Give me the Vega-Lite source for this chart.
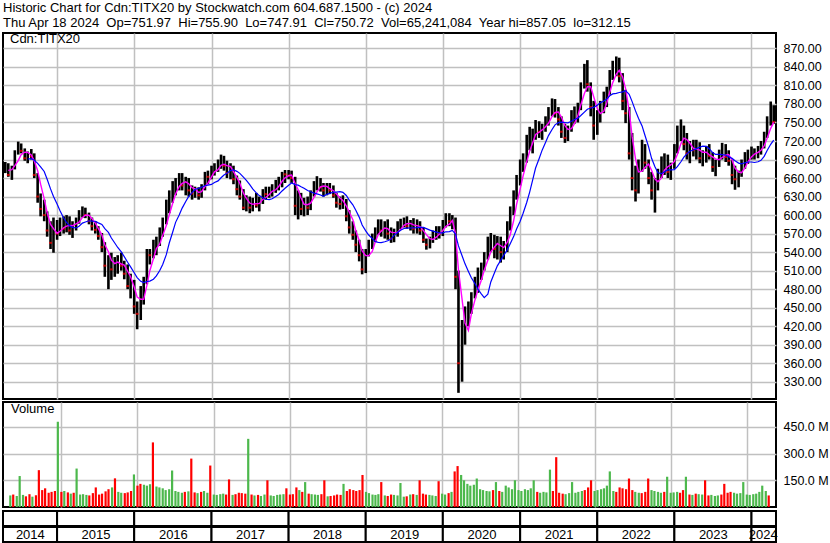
{
"$schema":"https://vega.github.io/schema/vega-lite/v6.json",
"background":"white",
"padding":{"left":1,"top":2,"right":0,"bottom":0},
"spacing":1,
"title":{"text":["Historic Chart for Cdn:TITX20 by Stockwatch.com 604.687.1500 - (c) 2024","Thu Apr 18 2024\u00a0 Op=751.97\u00a0 Hi=755.90\u00a0 Lo=747.91\u00a0 Cl=750.72\u00a0 Vol=65,241,084\u00a0 Year hi=857.05\u00a0 lo=312.15"],"anchor":"start","frame":"group","font":"Liberation Sans","fontSize":13,"fontWeight":"normal","color":"black","lineHeight":15,"offset":2},
"config":{"view":{"stroke":"black","strokeWidth":2},"axis":{"labelFont":"Liberation Sans","labelFontSize":12.5,"labelColor":"#000000","labelOverlap":false,"gridColor":"#c0c0c0","gridWidth":1.5}},
"datasets":{
"yr":[
{"y":"2014","s":"2014-04-20","e":"2015-01-01"},{"y":"2015","s":"2015-01-01","e":"2016-01-01"},{"y":"2016","s":"2016-01-01","e":"2017-01-01"},{"y":"2017","s":"2017-01-01","e":"2018-01-01"},{"y":"2018","s":"2018-01-01","e":"2019-01-01"},{"y":"2019","s":"2019-01-01","e":"2020-01-01"},{"y":"2020","s":"2020-01-01","e":"2021-01-01"},{"y":"2021","s":"2021-01-01","e":"2022-01-01"},{"y":"2022","s":"2022-01-01","e":"2023-01-01"},{"y":"2023","s":"2023-01-01","e":"2024-01-01"},{"y":"2024","s":"2024-01-01","e":"2024-04-26"}],
"p":[
{"d":"2014-05-01","o":672,"h":686,"l":668,"c":680,"v":65},
{"d":"2014-05-15","o":680,"h":684,"l":662,"c":665,"v":70},
{"d":"2014-06-01","o":665,"h":680,"l":657,"c":676,"v":62},
{"d":"2014-06-15","o":676,"h":705,"l":674,"c":700,"v":174},
{"d":"2014-07-01","o":700,"h":719,"l":698,"c":712,"v":68},
{"d":"2014-07-15","o":712,"h":716,"l":700,"c":704,"v":60},
{"d":"2014-08-01","o":704,"h":708,"l":688,"c":692,"v":72},
{"d":"2014-08-15","o":692,"h":703,"l":684,"c":698,"v":58},
{"d":"2014-09-01","o":698,"h":707,"l":690,"c":695,"v":66},
{"d":"2014-09-15","o":695,"h":700,"l":660,"c":665,"v":207},
{"d":"2014-10-01","o":665,"h":668,"l":620,"c":630,"v":95},
{"d":"2014-10-15","o":630,"h":635,"l":598,"c":610,"v":105},
{"d":"2014-11-01","o":610,"h":625,"l":590,"c":600,"v":80},
{"d":"2014-11-15","o":600,"h":606,"l":565,"c":575,"v":85},
{"d":"2014-12-01","o":575,"h":590,"l":545,"c":555,"v":90},
{"d":"2014-12-15","o":555,"h":596,"l":539,"c":582,"v":479},
{"d":"2015-01-01","o":582,"h":592,"l":560,"c":570,"v":85},
{"d":"2015-01-15","o":570,"h":596,"l":566,"c":588,"v":90},
{"d":"2015-02-01","o":588,"h":598,"l":570,"c":578,"v":82},
{"d":"2015-02-15","o":578,"h":600,"l":572,"c":592,"v":75},
{"d":"2015-03-01","o":592,"h":598,"l":568,"c":575,"v":80},
{"d":"2015-03-15","o":575,"h":590,"l":563,"c":586,"v":216},
{"d":"2015-04-01","o":586,"h":596,"l":575,"c":590,"v":70},
{"d":"2015-04-15","o":590,"h":608,"l":586,"c":603,"v":72},
{"d":"2015-05-01","o":603,"h":614,"l":596,"c":606,"v":68},
{"d":"2015-05-15","o":606,"h":612,"l":595,"c":600,"v":65},
{"d":"2015-06-01","o":600,"h":604,"l":585,"c":590,"v":78},
{"d":"2015-06-15","o":590,"h":596,"l":575,"c":582,"v":110},
{"d":"2015-07-01","o":582,"h":590,"l":570,"c":576,"v":70},
{"d":"2015-07-15","o":576,"h":582,"l":560,"c":566,"v":75},
{"d":"2015-08-01","o":566,"h":571,"l":540,"c":548,"v":88},
{"d":"2015-08-15","o":548,"h":556,"l":500,"c":518,"v":100},
{"d":"2015-09-01","o":518,"h":535,"l":480,"c":530,"v":110},
{"d":"2015-09-15","o":530,"h":539,"l":495,"c":512,"v":161},
{"d":"2015-10-01","o":512,"h":532,"l":500,"c":525,"v":85},
{"d":"2015-10-15","o":525,"h":535,"l":505,"c":528,"v":80},
{"d":"2015-11-01","o":528,"h":539,"l":510,"c":518,"v":78},
{"d":"2015-11-15","o":518,"h":526,"l":496,"c":505,"v":82},
{"d":"2015-12-01","o":505,"h":520,"l":480,"c":485,"v":90},
{"d":"2015-12-15","o":485,"h":505,"l":465,"c":492,"v":183},
{"d":"2016-01-01","o":492,"h":495,"l":440,"c":452,"v":120},
{"d":"2016-01-15","o":452,"h":460,"l":415,"c":440,"v":130},
{"d":"2016-02-01","o":440,"h":485,"l":430,"c":470,"v":125},
{"d":"2016-02-15","o":470,"h":500,"l":455,"c":492,"v":120},
{"d":"2016-03-01","o":492,"h":545,"l":488,"c":542,"v":128},
{"d":"2016-03-15","o":542,"h":545,"l":520,"c":535,"v":363},
{"d":"2016-04-01","o":535,"h":560,"l":530,"c":548,"v":115},
{"d":"2016-04-15","o":548,"h":565,"l":535,"c":558,"v":110},
{"d":"2016-05-01","o":558,"h":580,"l":550,"c":572,"v":105},
{"d":"2016-05-15","o":572,"h":596,"l":565,"c":590,"v":95},
{"d":"2016-06-01","o":590,"h":625,"l":585,"c":612,"v":100},
{"d":"2016-06-15","o":612,"h":640,"l":603,"c":628,"v":205},
{"d":"2016-07-01","o":628,"h":655,"l":620,"c":645,"v":90},
{"d":"2016-07-15","o":645,"h":660,"l":632,"c":652,"v":85},
{"d":"2016-08-01","o":652,"h":668,"l":640,"c":660,"v":80},
{"d":"2016-08-15","o":660,"h":668,"l":640,"c":648,"v":85},
{"d":"2016-09-01","o":648,"h":662,"l":632,"c":655,"v":88},
{"d":"2016-09-15","o":655,"h":660,"l":630,"c":640,"v":272},
{"d":"2016-10-01","o":640,"h":648,"l":625,"c":635,"v":82},
{"d":"2016-10-15","o":635,"h":646,"l":628,"c":640,"v":78},
{"d":"2016-11-01","o":640,"h":645,"l":625,"c":632,"v":85},
{"d":"2016-11-15","o":632,"h":650,"l":628,"c":645,"v":90},
{"d":"2016-12-01","o":645,"h":670,"l":640,"c":668,"v":80},
{"d":"2016-12-15","o":668,"h":672,"l":650,"c":662,"v":233},
{"d":"2017-01-01","o":662,"h":680,"l":658,"c":672,"v":70},
{"d":"2017-01-15","o":672,"h":684,"l":664,"c":678,"v":68},
{"d":"2017-02-01","o":678,"h":690,"l":670,"c":682,"v":72},
{"d":"2017-02-15","o":682,"h":698,"l":675,"c":690,"v":75},
{"d":"2017-03-01","o":690,"h":696,"l":672,"c":680,"v":70},
{"d":"2017-03-15","o":680,"h":688,"l":660,"c":668,"v":155},
{"d":"2017-04-01","o":668,"h":684,"l":658,"c":676,"v":68},
{"d":"2017-04-15","o":676,"h":680,"l":650,"c":658,"v":72},
{"d":"2017-05-01","o":658,"h":664,"l":632,"c":642,"v":80},
{"d":"2017-05-15","o":642,"h":656,"l":625,"c":630,"v":78},
{"d":"2017-06-01","o":630,"h":642,"l":608,"c":612,"v":75},
{"d":"2017-06-15","o":612,"h":632,"l":606,"c":624,"v":383},
{"d":"2017-07-01","o":624,"h":630,"l":603,"c":612,"v":70},
{"d":"2017-07-15","o":612,"h":628,"l":606,"c":622,"v":65},
{"d":"2017-08-01","o":622,"h":636,"l":612,"c":616,"v":68},
{"d":"2017-08-15","o":616,"h":630,"l":606,"c":624,"v":62},
{"d":"2017-09-01","o":624,"h":642,"l":618,"c":640,"v":70},
{"d":"2017-09-15","o":640,"h":646,"l":625,"c":634,"v":150},
{"d":"2017-10-01","o":634,"h":646,"l":628,"c":636,"v":65},
{"d":"2017-10-15","o":636,"h":650,"l":630,"c":644,"v":62},
{"d":"2017-11-01","o":644,"h":657,"l":636,"c":650,"v":68},
{"d":"2017-11-15","o":650,"h":662,"l":640,"c":655,"v":70},
{"d":"2017-12-01","o":655,"h":670,"l":645,"c":670,"v":72},
{"d":"2017-12-15","o":670,"h":673,"l":652,"c":666,"v":105},
{"d":"2018-01-01","o":666,"h":673,"l":658,"c":664,"v":70},
{"d":"2018-01-15","o":664,"h":672,"l":652,"c":660,"v":72},
{"d":"2018-02-01","o":660,"h":662,"l":600,"c":615,"v":110},
{"d":"2018-02-15","o":615,"h":640,"l":593,"c":625,"v":95},
{"d":"2018-03-01","o":625,"h":636,"l":600,"c":610,"v":85},
{"d":"2018-03-15","o":610,"h":628,"l":598,"c":620,"v":140},
{"d":"2018-04-01","o":620,"h":630,"l":600,"c":612,"v":75},
{"d":"2018-04-15","o":612,"h":640,"l":608,"c":635,"v":72},
{"d":"2018-05-01","o":635,"h":655,"l":630,"c":648,"v":70},
{"d":"2018-05-15","o":648,"h":663,"l":640,"c":655,"v":68},
{"d":"2018-06-01","o":655,"h":660,"l":638,"c":645,"v":72},
{"d":"2018-06-15","o":645,"h":652,"l":630,"c":640,"v":150},
{"d":"2018-07-01","o":640,"h":652,"l":632,"c":646,"v":60},
{"d":"2018-07-15","o":646,"h":652,"l":634,"c":640,"v":62},
{"d":"2018-08-01","o":640,"h":648,"l":628,"c":632,"v":65},
{"d":"2018-08-15","o":632,"h":636,"l":612,"c":620,"v":70},
{"d":"2018-09-01","o":620,"h":630,"l":609,"c":618,"v":68},
{"d":"2018-09-15","o":618,"h":632,"l":610,"c":624,"v":130},
{"d":"2018-10-01","o":624,"h":626,"l":590,"c":598,"v":90},
{"d":"2018-10-15","o":598,"h":608,"l":570,"c":580,"v":100},
{"d":"2018-11-01","o":580,"h":590,"l":560,"c":568,"v":95},
{"d":"2018-11-15","o":568,"h":575,"l":540,"c":552,"v":90},
{"d":"2018-12-01","o":552,"h":560,"l":525,"c":535,"v":95},
{"d":"2018-12-15","o":535,"h":545,"l":504,"c":512,"v":180},
{"d":"2019-01-01","o":512,"h":545,"l":506,"c":538,"v":85},
{"d":"2019-01-15","o":538,"h":560,"l":533,"c":552,"v":78},
{"d":"2019-02-01","o":552,"h":570,"l":545,"c":562,"v":70},
{"d":"2019-02-15","o":562,"h":580,"l":556,"c":574,"v":68},
{"d":"2019-03-01","o":574,"h":593,"l":568,"c":585,"v":72},
{"d":"2019-03-15","o":585,"h":593,"l":565,"c":575,"v":140},
{"d":"2019-04-01","o":575,"h":590,"l":562,"c":582,"v":65},
{"d":"2019-04-15","o":582,"h":593,"l":560,"c":570,"v":62},
{"d":"2019-05-01","o":570,"h":580,"l":555,"c":562,"v":70},
{"d":"2019-05-15","o":562,"h":578,"l":556,"c":572,"v":68},
{"d":"2019-06-01","o":572,"h":590,"l":565,"c":584,"v":65},
{"d":"2019-06-15","o":584,"h":594,"l":577,"c":588,"v":135},
{"d":"2019-07-01","o":588,"h":596,"l":580,"c":590,"v":58},
{"d":"2019-07-15","o":590,"h":598,"l":578,"c":582,"v":60},
{"d":"2019-08-01","o":582,"h":592,"l":575,"c":586,"v":70},
{"d":"2019-08-15","o":586,"h":595,"l":570,"c":578,"v":72},
{"d":"2019-09-01","o":578,"h":593,"l":570,"c":586,"v":68},
{"d":"2019-09-15","o":586,"h":590,"l":568,"c":575,"v":150},
{"d":"2019-10-01","o":575,"h":580,"l":555,"c":560,"v":75},
{"d":"2019-10-15","o":560,"h":562,"l":544,"c":552,"v":70},
{"d":"2019-11-01","o":552,"h":565,"l":546,"c":560,"v":68},
{"d":"2019-11-15","o":560,"h":575,"l":555,"c":570,"v":65},
{"d":"2019-12-01","o":570,"h":582,"l":560,"c":575,"v":62},
{"d":"2019-12-15","o":575,"h":582,"l":562,"c":570,"v":145},
{"d":"2020-01-01","o":570,"h":592,"l":566,"c":585,"v":75},
{"d":"2020-01-15","o":585,"h":603,"l":580,"c":596,"v":70},
{"d":"2020-02-01","o":596,"h":603,"l":582,"c":590,"v":78},
{"d":"2020-02-15","o":590,"h":600,"l":577,"c":594,"v":85},
{"d":"2020-03-01","o":594,"h":596,"l":480,"c":500,"v":200},
{"d":"2020-03-15","o":500,"h":510,"l":312,"c":360,"v":230},
{"d":"2020-04-01","o":360,"h":430,"l":330,"c":400,"v":180},
{"d":"2020-04-15","o":400,"h":452,"l":390,"c":440,"v":150},
{"d":"2020-05-01","o":440,"h":460,"l":420,"c":452,"v":130},
{"d":"2020-05-15","o":452,"h":475,"l":440,"c":468,"v":120},
{"d":"2020-06-01","o":468,"h":500,"l":465,"c":490,"v":125},
{"d":"2020-06-15","o":490,"h":515,"l":474,"c":505,"v":160},
{"d":"2020-07-01","o":505,"h":523,"l":495,"c":515,"v":100},
{"d":"2020-07-15","o":515,"h":540,"l":510,"c":532,"v":95},
{"d":"2020-08-01","o":532,"h":565,"l":528,"c":555,"v":90},
{"d":"2020-08-15","o":555,"h":571,"l":540,"c":560,"v":88},
{"d":"2020-09-01","o":560,"h":568,"l":530,"c":545,"v":95},
{"d":"2020-09-15","o":545,"h":566,"l":528,"c":556,"v":140},
{"d":"2020-10-01","o":556,"h":565,"l":523,"c":540,"v":90},
{"d":"2020-10-15","o":540,"h":558,"l":528,"c":548,"v":85},
{"d":"2020-11-01","o":548,"h":590,"l":540,"c":580,"v":120},
{"d":"2020-11-15","o":580,"h":614,"l":575,"c":605,"v":110},
{"d":"2020-12-01","o":605,"h":640,"l":600,"c":630,"v":100},
{"d":"2020-12-15","o":630,"h":665,"l":625,"c":655,"v":150},
{"d":"2021-01-01","o":655,"h":690,"l":648,"c":680,"v":95},
{"d":"2021-01-15","o":680,"h":700,"l":670,"c":690,"v":90},
{"d":"2021-02-01","o":690,"h":730,"l":685,"c":720,"v":100},
{"d":"2021-02-15","o":720,"h":743,"l":705,"c":725,"v":95},
{"d":"2021-03-01","o":725,"h":740,"l":700,"c":732,"v":105},
{"d":"2021-03-15","o":732,"h":754,"l":722,"c":745,"v":150},
{"d":"2021-04-01","o":745,"h":752,"l":725,"c":735,"v":85},
{"d":"2021-04-15","o":735,"h":748,"l":722,"c":740,"v":80},
{"d":"2021-05-01","o":740,"h":760,"l":735,"c":752,"v":85},
{"d":"2021-05-15","o":752,"h":775,"l":745,"c":768,"v":82},
{"d":"2021-06-01","o":768,"h":789,"l":760,"c":780,"v":210},
{"d":"2021-06-15","o":780,"h":788,"l":758,"c":765,"v":90},
{"d":"2021-07-01","o":765,"h":775,"l":745,"c":755,"v":280},
{"d":"2021-07-15","o":755,"h":760,"l":725,"c":735,"v":80},
{"d":"2021-08-01","o":735,"h":748,"l":717,"c":725,"v":75},
{"d":"2021-08-15","o":725,"h":745,"l":720,"c":740,"v":72},
{"d":"2021-09-01","o":740,"h":770,"l":735,"c":760,"v":78},
{"d":"2021-09-15","o":760,"h":776,"l":748,"c":768,"v":140},
{"d":"2021-10-01","o":768,"h":782,"l":750,"c":775,"v":80},
{"d":"2021-10-15","o":775,"h":815,"l":770,"c":810,"v":85},
{"d":"2021-11-01","o":810,"h":845,"l":805,"c":835,"v":90},
{"d":"2021-11-15","o":835,"h":851,"l":800,"c":812,"v":95},
{"d":"2021-12-01","o":812,"h":815,"l":760,"c":775,"v":110},
{"d":"2021-12-15","o":775,"h":785,"l":722,"c":745,"v":150},
{"d":"2022-01-01","o":745,"h":770,"l":730,"c":760,"v":90},
{"d":"2022-01-15","o":760,"h":785,"l":750,"c":778,"v":95},
{"d":"2022-02-01","o":778,"h":800,"l":765,"c":790,"v":100},
{"d":"2022-02-15","o":790,"h":808,"l":775,"c":800,"v":105},
{"d":"2022-03-01","o":800,"h":835,"l":795,"c":828,"v":120},
{"d":"2022-03-15","o":828,"h":850,"l":819,"c":840,"v":200},
{"d":"2022-04-01","o":840,"h":857,"l":825,"c":845,"v":90},
{"d":"2022-04-15","o":845,"h":855,"l":815,"c":825,"v":85},
{"d":"2022-05-01","o":825,"h":830,"l":770,"c":785,"v":110},
{"d":"2022-05-15","o":785,"h":803,"l":749,"c":765,"v":105},
{"d":"2022-06-01","o":765,"h":775,"l":690,"c":700,"v":100},
{"d":"2022-06-15","o":700,"h":733,"l":640,"c":660,"v":160},
{"d":"2022-07-01","o":660,"h":680,"l":622,"c":640,"v":95},
{"d":"2022-07-15","o":640,"h":690,"l":635,"c":680,"v":85},
{"d":"2022-08-01","o":680,"h":722,"l":670,"c":705,"v":80},
{"d":"2022-08-15","o":705,"h":715,"l":675,"c":685,"v":78},
{"d":"2022-09-01","o":685,"h":690,"l":650,"c":660,"v":85},
{"d":"2022-09-15","o":660,"h":670,"l":625,"c":640,"v":160},
{"d":"2022-10-01","o":640,"h":660,"l":604,"c":648,"v":95},
{"d":"2022-10-15","o":648,"h":675,"l":640,"c":668,"v":90},
{"d":"2022-11-01","o":668,"h":695,"l":660,"c":685,"v":85},
{"d":"2022-11-15","o":685,"h":700,"l":665,"c":690,"v":80},
{"d":"2022-12-01","o":690,"h":698,"l":660,"c":670,"v":85},
{"d":"2022-12-15","o":670,"h":685,"l":657,"c":680,"v":170},
{"d":"2023-01-01","o":680,"h":715,"l":675,"c":708,"v":80},
{"d":"2023-01-15","o":708,"h":745,"l":700,"c":735,"v":82},
{"d":"2023-02-01","o":735,"h":755,"l":720,"c":740,"v":85},
{"d":"2023-02-15","o":740,"h":745,"l":705,"c":715,"v":80},
{"d":"2023-03-01","o":715,"h":733,"l":690,"c":700,"v":95},
{"d":"2023-03-15","o":700,"h":720,"l":684,"c":712,"v":170},
{"d":"2023-04-01","o":712,"h":722,"l":695,"c":705,"v":70},
{"d":"2023-04-15","o":705,"h":722,"l":690,"c":712,"v":68},
{"d":"2023-05-01","o":712,"h":718,"l":684,"c":692,"v":75},
{"d":"2023-05-15","o":692,"h":705,"l":679,"c":698,"v":72},
{"d":"2023-06-01","o":698,"h":712,"l":685,"c":705,"v":70},
{"d":"2023-06-15","o":705,"h":715,"l":690,"c":696,"v":150},
{"d":"2023-07-01","o":696,"h":702,"l":670,"c":678,"v":65},
{"d":"2023-07-15","o":678,"h":690,"l":663,"c":685,"v":68},
{"d":"2023-08-01","o":685,"h":706,"l":678,"c":700,"v":62},
{"d":"2023-08-15","o":700,"h":717,"l":690,"c":710,"v":65},
{"d":"2023-09-01","o":710,"h":715,"l":686,"c":694,"v":70},
{"d":"2023-09-15","o":694,"h":705,"l":680,"c":688,"v":130},
{"d":"2023-10-01","o":688,"h":690,"l":650,"c":665,"v":80},
{"d":"2023-10-15","o":665,"h":680,"l":641,"c":658,"v":85},
{"d":"2023-11-01","o":658,"h":672,"l":645,"c":668,"v":80},
{"d":"2023-11-15","o":668,"h":690,"l":662,"c":684,"v":75},
{"d":"2023-12-01","o":684,"h":702,"l":675,"c":695,"v":78},
{"d":"2023-12-15","o":695,"h":706,"l":683,"c":698,"v":140},
{"d":"2024-01-01","o":698,"h":711,"l":690,"c":700,"v":70},
{"d":"2024-01-15","o":700,"h":708,"l":690,"c":702,"v":68},
{"d":"2024-02-01","o":702,"h":712,"l":692,"c":706,"v":72},
{"d":"2024-02-15","o":706,"h":720,"l":698,"c":712,"v":75},
{"d":"2024-03-01","o":712,"h":735,"l":708,"c":728,"v":85},
{"d":"2024-03-15","o":728,"h":760,"l":725,"c":752,"v":120},
{"d":"2024-04-01","o":752,"h":784,"l":745,"c":770,"v":90},
{"d":"2024-04-15","o":770,"h":778,"l":747.91,"c":750.72,"v":65}
]},
"vconcat":[
{"width":773,"height":366,
"data":{"name":"p"},
"title":{"text":"Cdn:TITX20","anchor":"start","offset":-13,"dx":7,"font":"Liberation Sans","fontSize":13,"fontWeight":"normal","color":"black"},
"transform":[
{"window":[{"op":"mean","field":"c","as":"m1"},{"op":"count","as":"n1"}],"frame":[-3,0],"sort":[{"field":"d"}]},
{"window":[{"op":"mean","field":"c","as":"m2"},{"op":"count","as":"n2"}],"frame":[-9,0],"sort":[{"field":"d"}]}
],
"encoding":{"x":{"field":"d","type":"temporal","title":null,"scale":{"domain":[{"year":2014,"month":4,"date":20},{"year":2024,"month":4,"date":26}]},"axis":{"values":[{"year":2015,"month":1,"date":1},{"year":2016,"month":1,"date":1},{"year":2017,"month":1,"date":1},{"year":2018,"month":1,"date":1},{"year":2019,"month":1,"date":1},{"year":2020,"month":1,"date":1},{"year":2021,"month":1,"date":1},{"year":2022,"month":1,"date":1},{"year":2023,"month":1,"date":1},{"year":2024,"month":1,"date":1}],"labels":false,"ticks":false,"domain":false,"grid":true,"title":null}}},
"layer":[
{"mark":{"type":"rule","color":"black","strokeWidth":2.6},"encoding":{"y":{"field":"l","type":"quantitative","title":null,"scale":{"domain":[302,895],"nice":false,"zero":false},"axis":{"orient":"right","values":[330,360,390,420,450,480,510,540,570,600,630,660,690,720,750,780,810,840,870],"format":".2f","title":null,"ticks":false,"tickSize":0,"domain":false,"labelPadding":7,"labelOverlap":false,"grid":true}},"y2":{"field":"h"}}},
{"transform":[{"filter":"datum.c < datum.o"}],"mark":{"type":"tick","color":"#ff0000","orient":"horizontal","size":3,"thickness":2},"encoding":{"y":{"field":"c","type":"quantitative","title":null,"axis":{"orient":"right","values":[330,360,390,420,450,480,510,540,570,600,630,660,690,720,750,780,810,840,870],"format":".2f","title":null,"ticks":false,"tickSize":0,"domain":false,"labelPadding":7,"labelOverlap":false,"grid":true}}}},
{"transform":[{"filter":"datum.n1 >= 2"}],"mark":{"type":"line","color":"#ff00ff","strokeWidth":1.4},"encoding":{"y":{"field":"m1","type":"quantitative","title":null,"axis":{"orient":"right","values":[330,360,390,420,450,480,510,540,570,600,630,660,690,720,750,780,810,840,870],"format":".2f","title":null,"ticks":false,"tickSize":0,"domain":false,"labelPadding":7,"labelOverlap":false,"grid":true}}}},
{"transform":[{"filter":"datum.n2 >= 8"}],"mark":{"type":"line","color":"#0000ff","strokeWidth":1.2},"encoding":{"y":{"field":"m2","type":"quantitative","title":null,"axis":{"orient":"right","values":[330,360,390,420,450,480,510,540,570,600,630,660,690,720,750,780,810,840,870],"format":".2f","title":null,"ticks":false,"tickSize":0,"domain":false,"labelPadding":7,"labelOverlap":false,"grid":true}}}}
]},
{"width":773,"height":105,
"data":{"name":"p"},
"title":{"text":"Volume","anchor":"start","offset":-14,"dx":8,"font":"Liberation Sans","fontSize":13,"fontWeight":"normal","color":"black"},
"mark":{"type":"bar","width":2.2},
"encoding":{
"x":{"field":"d","type":"temporal","title":null,"scale":{"domain":[{"year":2014,"month":4,"date":20},{"year":2024,"month":4,"date":26}]},"axis":{"values":[{"year":2015,"month":1,"date":1},{"year":2016,"month":1,"date":1},{"year":2017,"month":1,"date":1},{"year":2018,"month":1,"date":1},{"year":2019,"month":1,"date":1},{"year":2020,"month":1,"date":1},{"year":2021,"month":1,"date":1},{"year":2022,"month":1,"date":1},{"year":2023,"month":1,"date":1},{"year":2024,"month":1,"date":1}],"labels":false,"ticks":false,"domain":false,"grid":true,"title":null}},
"y":{"field":"v","type":"quantitative","title":null,"scale":{"domain":[0,590],"nice":false},"axis":{"orient":"right","values":[150,300,450],"labelExpr":"format(datum.value,'.1f') + ' M'","title":null,"ticks":false,"tickSize":0,"domain":false,"labelPadding":7,"labelOverlap":false,"grid":true}},
"color":{"condition":{"test":"datum.c > datum.o","value":"#4cb84c"},"value":"#ff0000"}
}},
{"width":773,"height":31,
"data":{"name":"yr"},
"layer":[
{"mark":{"type":"rect","fill":"white","stroke":"black","strokeWidth":2},
"encoding":{"x":{"field":"s","type":"temporal","title":null,"scale":{"domain":[{"year":2014,"month":4,"date":20},{"year":2024,"month":4,"date":26}]},"axis":{"orient":"bottom","offset":-15,"zindex":1,"values":[{"year":2014,"month":8,"date":25},{"year":2015,"month":7,"date":2},{"year":2016,"month":7,"date":2},{"year":2017,"month":7,"date":2},{"year":2018,"month":7,"date":2},{"year":2019,"month":7,"date":2},{"year":2020,"month":7,"date":2},{"year":2021,"month":7,"date":2},{"year":2022,"month":7,"date":2},{"year":2023,"month":7,"date":2},{"year":2024,"month":2,"date":23}],"format":"%Y","labelFontSize":13,"labelAlign":"center","labelBaseline":"top","labelPadding":1,"labelOverlap":false,"ticks":false,"tickSize":0,"domain":false,"grid":false,"title":null}},"x2":{"field":"e"}}},
{"mark":{"type":"rule","color":"black","strokeWidth":2},"encoding":{"y":{"datum":1,"type":"quantitative","scale":{"domain":[0,2]},"axis":null}}}
]}
]}
